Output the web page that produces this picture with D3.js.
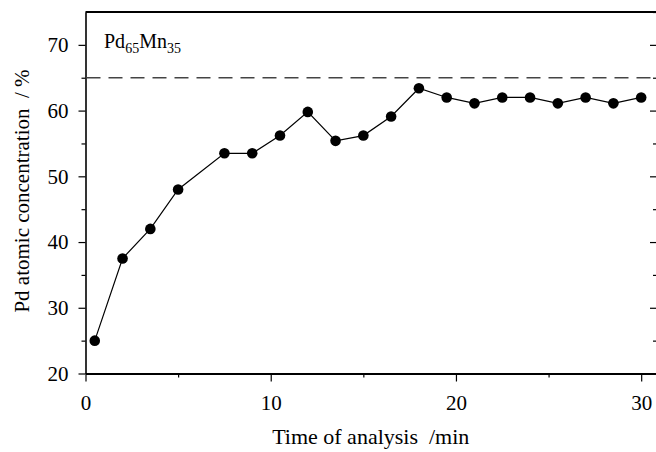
<!DOCTYPE html>
<html>
<head>
<meta charset="utf-8">
<script src="https://cdn.jsdelivr.net/npm/d3@7"></script>
<style>
  html, body { margin: 0; padding: 0; background: #fff; }
  svg { display: block; }
  text { font-family: "Liberation Serif", "Times New Roman", serif; fill: #000; white-space: pre; }
</style>
</head>
<body>
<svg id="chart" width="656" height="452"></svg>
<script>
// ---- data ----
const times = [0.5, 2, 3.5, 5, 7.5, 9, 10.5, 12, 13.5, 15, 16.5, 18, 19.5, 21, 22.5, 24, 25.5, 27, 28.5, 30];
const pdConc = [25, 37.5, 42, 48, 53.5, 53.5, 56.2, 59.8, 55.4, 56.2, 59.1, 63.4, 62, 61.1, 62, 62, 61.1, 62, 61.1, 62];
const nominalPd = 65;
const xMajorTicks = [0, 10, 20, 30];
const xMinorTicks = [5, 15, 25];
const yMajorTicks = [20, 30, 40, 50, 60, 70];
const yMinorTicks = [25, 35, 45, 55, 65, 75];
const xTitle = "Time of analysis  /min";
const yTitle = "Pd atomic concentration  / %";

// ---- layout ----
const svg = d3.select("#chart");
const pLeft = 85.5, pRight = 656, pTop = 12, pBottom = 373.5;

const x = d3.scaleLinear().domain([0, 30.8]).range([pLeft, pRight]);
const y = d3.scaleLinear().domain([20, 75]).range([pBottom, pTop]);

// top border
svg.append("line").attr("x1", pLeft).attr("x2", pRight).attr("y1", pTop).attr("y2", pTop)
  .attr("stroke", "#000").attr("stroke-width", 2);

// right axis (inward ticks, no labels)
const rAxisMaj = svg.append("g").attr("transform", `translate(${pRight},0)`)
  .call(d3.axisLeft(y).tickValues(yMajorTicks).tickSize(6).tickFormat(""));
const rAxisMin = svg.append("g").attr("transform", `translate(${pRight},0)`)
  .call(d3.axisLeft(y).tickValues(yMinorTicks).tickSize(3).tickFormat(""));
[rAxisMaj, rAxisMin].forEach(g => { g.select(".domain").remove(); g.selectAll("line").attr("stroke-width", 1.2); });

// left axis
const lAxisMin = svg.append("g").attr("transform", `translate(${pLeft},0)`)
  .call(d3.axisLeft(y).tickValues(yMinorTicks.filter(v => v < 75)).tickSize(4).tickFormat(""));
lAxisMin.select(".domain").remove();
const lAxis = svg.append("g").attr("transform", `translate(${pLeft},0)`)
  .call(d3.axisLeft(y).tickValues(yMajorTicks).tickSize(7).tickSizeOuter(0).tickPadding(10));
lAxis.select(".domain").attr("stroke-width", 1.6);
lAxis.selectAll("text").style("font-size", "21px");
[lAxis, lAxisMin].forEach(g => g.selectAll("line").attr("stroke-width", 1.2));

// bottom axis
const bAxisMin = svg.append("g").attr("transform", `translate(0,${pBottom})`)
  .call(d3.axisBottom(x).tickValues(xMinorTicks).tickSize(4).tickFormat(""));
bAxisMin.select(".domain").remove();
const bAxis = svg.append("g").attr("transform", `translate(0,${pBottom})`)
  .call(d3.axisBottom(x).tickValues(xMajorTicks).tickSize(8).tickSizeOuter(0).tickPadding(14));
bAxis.select(".domain").attr("stroke-width", 1.8);
bAxis.selectAll("text").style("font-size", "21px");
[bAxis, bAxisMin].forEach(g => g.selectAll("line").attr("stroke-width", 1.2));
svg.selectAll(".tick text").style("font-family", "'Liberation Serif', serif");

// dashed nominal line
svg.append("line")
  .attr("x1", pLeft + 1).attr("x2", pRight)
  .attr("y1", y(nominalPd)).attr("y2", y(nominalPd))
  .attr("stroke", "#444").attr("stroke-width", 1.6)
  .attr("stroke-dasharray", "14,8");

// data line
const line = d3.line().x((d, i) => x(times[i])).y(d => y(d));
svg.append("path").datum(pdConc)
  .attr("d", line).attr("fill", "none").attr("stroke", "#000").attr("stroke-width", 1.2);

svg.append("g").selectAll("circle").data(pdConc).join("circle")
  .attr("cx", (d, i) => x(times[i])).attr("cy", d => y(d))
  .attr("r", 5.3).attr("fill", "#000");

// composition label
const lbl = svg.append("text").attr("x", 104).attr("y", 48).style("font-size", "20px");
lbl.append("tspan").text("Pd");
lbl.append("tspan").attr("dy", 5).style("font-size", "14px").text("65");
lbl.append("tspan").attr("dy", -5).text("Mn");
lbl.append("tspan").attr("dy", 5).style("font-size", "14px").text("35");

// axis titles
svg.append("text").attr("x", (pLeft + pRight) / 2).attr("y", 444)
  .attr("text-anchor", "middle").style("font-size", "22px").text(xTitle);
svg.append("text").attr("transform", `translate(29,191) rotate(-90)`)
  .attr("text-anchor", "middle").style("font-size", "21px").text(yTitle);
</script>
</body>
</html>
